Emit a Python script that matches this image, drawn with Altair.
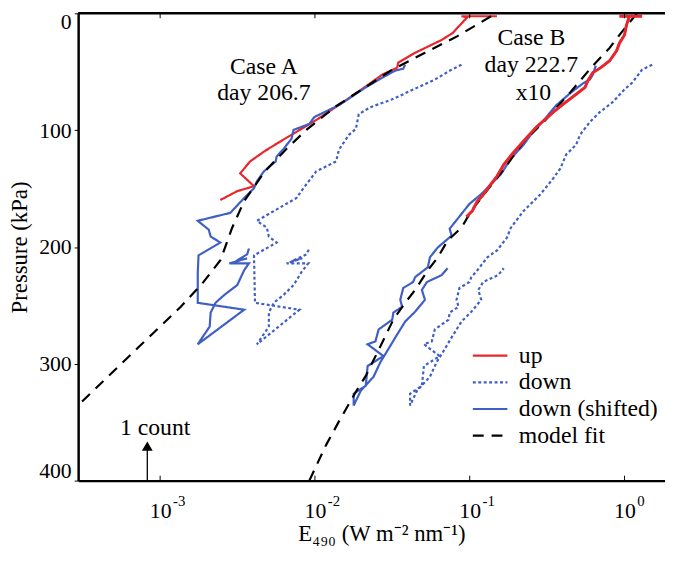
import altair as alt
import pandas as pd

# ---------------- data ----------------
SERIES = ["up", "down", "down (shifted)", "model fit"]

upA_E = [2.45e-3, 3.15e-3, 4.04e-3, 3.29e-3, 3.81e-3, 4.68e-3, 5.66e-3, 7.06e-3, 1.02e-2, 1.52e-2,
         2.13e-2, 2.73e-2, 3.40e-2, 3.45e-2, 4.44e-2, 6.59e-2, 7.75e-2, 9.25e-2, 9.66e-2, 8.85e-2, 0.150]
upA_P = [159.8, 152.2, 148.0, 137.0, 126.8, 118.4, 111.6, 104.0, 91.3, 76.1,
         62.6, 52.4, 46.5, 42.3, 33.8, 22.8, 16.9, 5.9, 3.4, 2.5, 2.5]

upB_E = [0.0953, 0.104, 0.112, 0.1205, 0.134, 0.150, 0.166, 0.187, 0.207, 0.230, 0.270, 0.347, 0.402,
         0.487, 0.556, 0.581, 0.625, 0.703, 0.802, 0.889, 0.929, 1.00, 1.03, 1.076, 0.929, 1.30]
upB_P = [174.2, 169.1, 160.7, 156.4, 148.0, 139.5, 129.4, 120.9, 114.2, 107.4, 97.3, 84.6, 77.8,
         69.3, 63.4, 57.5, 50.7, 46.5, 40.6, 32.1, 25.4, 18.6, 10.1, 2.5, 2.5, 2.5]

downA_E = [8.85e-2, 7.64e-2, 5.95e-2, 4.63e-2, 3.16e-2, 2.29e-2, 1.92e-2, 1.84e-2, 1.66e-2, 1.43e-2,
           1.37e-2, 1.02e-2, 8.43e-3, 7.60e-3, 4.22e-3, 4.89e-3, 5.04e-3, 5.66e-3, 4.04e-3, 4.10e-3,
           7.94e-3, 4.22e-3, 5.04e-3, 5.04e-3, 5.42e-3, 6.28e-3, 7.28e-3, 8.18e-3, 9.06e-3, 6.56e-3,
           8.30e-3, 7.06e-3, 8.81e-3, 9.20e-3]
downA_P = [44.0, 48.2, 56.7, 63.4, 73.6, 80.3, 86.3, 98.9, 104.0, 116.7,
           126.8, 135.3, 149.7, 158.1, 177.6, 183.5, 191.1, 196.2, 207.2, 247.8,
           253.7, 283.3, 268.1, 256.2, 247.8, 241.0, 232.6, 221.6, 214.0, 214.0,
           209.7, 212.3, 206.3, 201.3]

downB_E = [1.51, 1.30, 1.125, 0.985, 0.838, 0.692, 0.598, 0.516, 0.487, 0.420, 0.385, 0.347, 0.287,
           0.223, 0.1845, 0.174, 0.150, 0.130, 0.112, 0.1025, 0.0995, 0.0859, 0.0822, 0.0847, 0.0742,
           0.0731, 0.0595, 0.0569, 0.0506, 0.0640, 0.0506, 0.0491, 0.0412, 0.0412, 0.0457, 0.0553,
           0.0612, 0.0689, 0.0764, 0.0885, 0.1025, 0.1187, 0.1136, 0.1222, 0.1525, 0.166]
downB_P = [44.0, 48.2, 59.2, 66.0, 76.1, 84.6, 93.0, 104.0, 112.5, 120.9, 132.8, 141.2, 154.8,
           169.1, 183.5, 192.0, 203.0, 208.9, 219.9, 225.8, 230.0, 235.1, 245.2, 251.2, 256.2,
           262.2, 270.6, 280.8, 283.3, 293.4, 301.9, 318.8, 325.6, 335.7, 323.0, 311.2,
           298.5, 287.5, 277.4, 263.8, 255.4, 245.2, 236.8, 230.0, 224.1, 218.2]

shiftA_E = [3.83e-2, 3.72e-2, 3.31e-2, 2.73e-2, 2.13e-2, 1.43e-2, 9.90e-3, 9.20e-3, 7.28e-3, 7.06e-3,
            6.28e-3, 5.66e-3, 5.58e-3, 4.68e-3, 4.22e-3, 4.04e-3, 3.49e-3, 2.84e-3, 1.75e-3, 2.06e-3,
            2.12e-3, 2.45e-3, 1.77e-3, 1.75e-3, 1.75e-3, 3.49e-3, 1.75e-3, 2.09e-3, 2.12e-3, 2.28e-3,
            2.60e-3, 3.15e-3, 3.49e-3, 3.75e-3, 2.80e-3, 3.65e-3, 3.06e-3, 3.65e-3, 3.75e-3]
shiftA_P = [44.0, 47.4, 49.0, 55.0, 63.4, 78.6, 88.8, 94.7, 99.8, 107.4,
            115.9, 122.6, 126.8, 135.3, 143.8, 149.7, 158.1, 170.8, 177.6, 185.2,
            191.1, 196.2, 207.2, 222.4, 247.8, 253.7, 283.3, 268.1, 256.2, 247.8,
            241.0, 232.6, 219.9, 214.0, 214.0, 209.7, 212.5, 206.3, 201.3]

shiftB_E = [0.653, 0.625, 0.598, 0.539, 0.452, 0.363, 0.270, 0.248, 0.223, 0.1845, 0.159, 0.1375,
            0.1187, 0.0995, 0.0885, 0.0742, 0.0764, 0.0622, 0.0553, 0.0537, 0.0444, 0.0431, 0.0372,
            0.0356, 0.0366, 0.0321, 0.0316, 0.0258, 0.0246, 0.0219, 0.0277, 0.0219, 0.0213, 0.0178,
            0.0178, 0.0198, 0.0239, 0.0265, 0.0298, 0.0331, 0.0383, 0.0444, 0.0514, 0.0491, 0.0529,
            0.0659, 0.0720]
shiftB_P = [44.8, 52.4, 56.7, 60.0, 67.7, 78.6, 98.9, 104.0, 112.5, 124.3, 137.8, 146.3,
            154.8, 163.2, 171.7, 184.4, 190.3, 200.4, 208.9, 217.3, 225.8, 230.0, 235.1,
            245.2, 251.2, 256.2, 262.2, 270.6, 280.8, 283.3, 293.4, 301.9, 318.8, 325.6,
            335.7, 323.0, 311.2, 298.5, 287.5, 277.4, 263.8, 255.4, 245.2, 236.8, 230.0,
            224.1, 218.2]

fitA_E = [3.13e-4, 7.24e-4, 1.36e-3, 1.88e-3, 2.45e-3, 2.92e-3, 3.49e-3, 4.75e-3, 6.56e-3,
          8.81e-3, 1.37e-2, 2.36e-2, 3.16e-2, 5.14e-2, 8.34e-2, 0.1375, 0.148]
fitA_P = [332.3, 285.8, 251.2, 230.9, 211.4, 183.5, 160.7, 135.3, 115.9,
          99.8, 79.5, 59.2, 48.2, 33.8, 19.5, 2.5, 0.0]

fitB_E = [9.20e-3, 1.18e-2, 1.43e-2, 1.84e-2, 2.13e-2, 2.65e-2, 3.21e-2, 3.83e-2, 4.44e-2, 5.37e-2,
          6.22e-2, 7.20e-2, 8.85e-2, 0.1025, 0.124, 0.166, 0.223, 0.313, 0.446, 0.625, 0.802,
          0.971, 1.175, 1.21]
fitB_P = [400.0, 369.6, 349.3, 323.9, 310.4, 285.0, 262.2, 247.8, 236.8, 219.9,
          208.9, 194.5, 183.5, 169.1, 154.8, 133.6, 109.9, 90.5, 67.7, 44.8, 29.6,
          15.2, 1.7, 0.0]

ann_text = ["Case A", "day 206.7", "Case B", "day 222.7", "x10", "1 count"]
ann_E = [4.68e-3, 4.68e-3, 0.25, 0.25, 0.258, 9.29e-4]
ann_P = [51.8, 74.5, 26.8, 50.5, 74.2, 360.8]

count_E = [8.26e-4]
count_P_base = [400.0]
count_P_head = [370.5]

tick_vals = [1e-3, 1e-2, 1e-1, 1.0]
tick_exps = ["-3", "-2", "-1", "0"]

# ---------------- build tables ----------------
rows = []
def add(series, case, E, P):
    for i, (e, p) in enumerate(zip(E, P)):
        rows.append({"series": series, "case": case, "E": e, "P": p, "i": i,
                     "key": series + "|" + case})

add("up", "A", upA_E, upA_P)
add("up", "B", upB_E, upB_P)
add("down", "A", downA_E, downA_P)
add("down", "B", downB_E, downB_P)
add("down (shifted)", "A", shiftA_E, shiftA_P)
add("down (shifted)", "B", shiftB_E, shiftB_P)
add("model fit", "A", fitA_E, fitA_P)
add("model fit", "B", fitB_E, fitB_P)
df = pd.DataFrame(rows)

ann = pd.DataFrame({"text": ann_text, "E": ann_E, "P": ann_P})
arrow = pd.DataFrame({"E": count_E, "P": count_P_base, "P2": count_P_head})
ticks = pd.DataFrame({"E": tick_vals, "exp": tick_exps})

RED = "#e8262b"
BLUE = "#3f5fc4"
FONT = "Liberation Serif"
W, H = 594, 473

xscale = alt.Scale(type="log", domain=[2.953e-4, 1.827], nice=False)
yscale = alt.Scale(domain=[0, 400], reverse=True, nice=False, zero=False)

leg = alt.Legend(title=None, orient="none", legendX=398, legendY=333,
                 symbolType="stroke", symbolSize=1225, labelFont=FONT,
                 labelFontSize=24, labelColor="black", labelOffset=10,
                 clipHeight=27, rowPadding=0, padding=0)

xaxis = alt.Axis(values=tick_vals, labelExpr="'10'", ticks=False, grid=False,
                 domainColor="black", domainWidth=2.5, labelFont=FONT,
                 labelFontSize=22, labelColor="black", labelPadding=20,
                 labelFlush=False,
                 title="E₄₉₀ (W m⁻² nm⁻¹)", titleFont=FONT, titleFontSize=23,
                 titleFontWeight="normal", titleColor="black", titlePadding=2,
                 titleX=307)
yaxis = alt.Axis(values=[0, 100, 200, 300, 400], grid=False, tickSize=4,
                 tickColor="black", domainColor="black", domainWidth=2.5,
                 labelFont=FONT, labelFontSize=22, labelColor="black",
                 labelPadding=3, labelFlush=True, labelFlushOffset=2,
                 title="Pressure (kPa)", titleFont=FONT, titleFontSize=23,
                 titleFontWeight="normal", titleColor="black", titlePadding=7)

lines = alt.Chart(df).mark_line(clip=True).encode(
    x=alt.X("E:Q", scale=xscale, axis=xaxis),
    y=alt.Y("P:Q", scale=yscale, axis=yaxis),
    color=alt.Color("series:N", scale=alt.Scale(domain=SERIES, range=[RED, BLUE, BLUE, "black"]),
                    legend=leg),
    strokeDash=alt.StrokeDash("series:N",
                              scale=alt.Scale(domain=SERIES, range=[[1, 0], [3, 2.5], [1, 0], [11, 8]]),
                              legend=leg),
    strokeWidth=alt.StrokeWidth("series:N",
                                scale=alt.Scale(domain=SERIES, range=[2.2, 2.2, 1.6, 2.0]),
                                legend=leg),
    detail="key:N",
    order="i:Q",
)

redB = alt.Chart(df[(df.series == "up") & (df.case == "B")]).mark_line(
    color=RED, strokeWidth=3, clip=True).encode(
    x=alt.X("E:Q", scale=xscale), y=alt.Y("P:Q", scale=yscale), order="i:Q")

texts = alt.Chart(ann).mark_text(font=FONT, fontSize=24, color="black",
                                 align="center", baseline="alphabetic").encode(
    x=alt.X("E:Q", scale=xscale), y=alt.Y("P:Q", scale=yscale), text="text:N")

arrow_line = alt.Chart(arrow).mark_rule(color="black", strokeWidth=1.3).encode(
    x=alt.X("E:Q", scale=xscale), y=alt.Y("P:Q", scale=yscale), y2="P2:Q")
arrow_head = alt.Chart(arrow).mark_point(shape="triangle-up", filled=True, color="black",
                                         size=120, opacity=1).encode(
    x=alt.X("E:Q", scale=xscale), y=alt.Y("P2:Q", scale=yscale))

bottom_ticks = alt.Chart(ticks).mark_rule(color="black", strokeWidth=1).encode(
    x=alt.X("E:Q", scale=xscale), y=alt.value(H), y2=alt.value(H - 5))
top_ticks = alt.Chart(ticks).mark_rule(color="black", strokeWidth=1).encode(
    x=alt.X("E:Q", scale=xscale), y=alt.value(0), y2=alt.value(5))
exps = alt.Chart(ticks).mark_text(font=FONT, fontSize=15, color="black", align="left",
                                  baseline="top", dx=13).encode(
    x=alt.X("E:Q", scale=xscale), y=alt.value(H + 14), text="exp:N")
top_border = alt.Chart(pd.DataFrame({"a": [0]})).mark_rule(color="black", strokeWidth=2.5).encode(
    x=alt.value(0), x2=alt.value(W), y=alt.value(0))

chart = alt.layer(
    lines, redB, texts, arrow_line, arrow_head, bottom_ticks, top_ticks, exps, top_border
).properties(
    width=W, height=H,
    autosize=alt.AutoSizeParams(type="none"),
    padding={"left": 71, "top": 2, "right": 0, "bottom": 80},
).configure_view(stroke=None)

chart.save("out.html", embed_options={"renderer": "svg", "actions": False})
